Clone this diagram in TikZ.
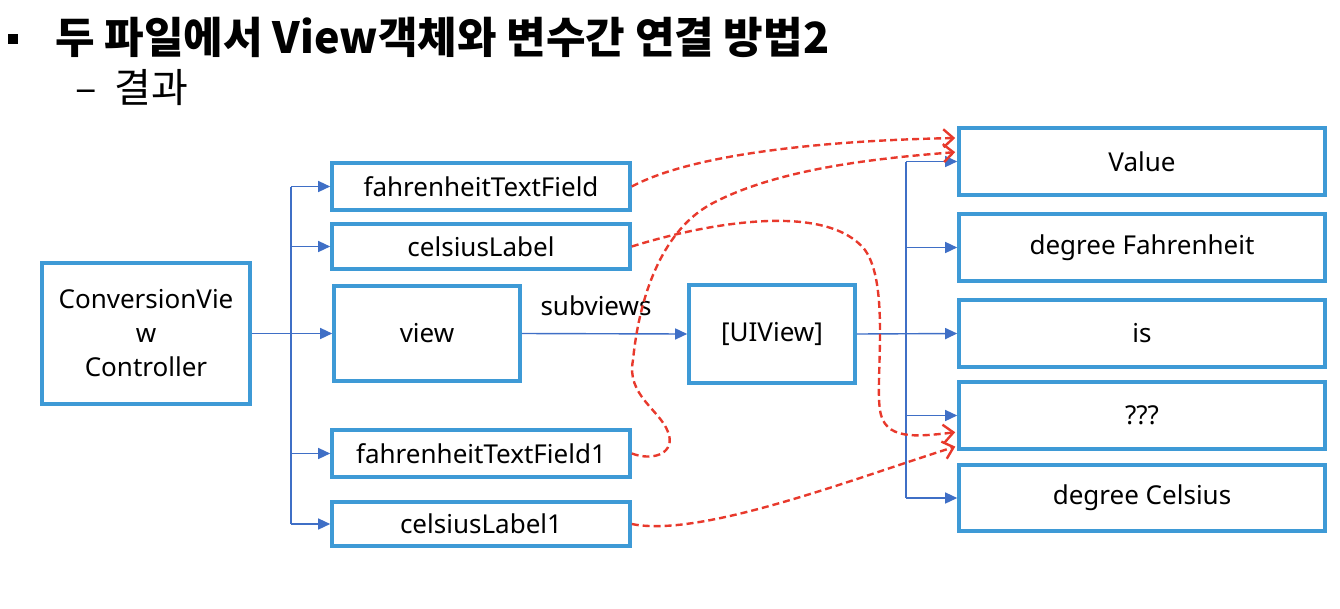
\documentclass[tikz,border=0pt]{standalone}
\usepackage{fontspec}
\setmainfont{Noto Sans}
\newfontfamily\kr{Noto Sans CJK KR}
\usetikzlibrary{arrows.meta,calc}
\definecolor{boxblue}{HTML}{3E9AD6}
\definecolor{lineblue}{HTML}{3F6FC6}
\definecolor{redd}{HTML}{E8392C}
\tikzset{
  box/.style={draw=boxblue, line width=3.6pt, inner sep=0pt, align=center, font=\fontsize{26}{34}\selectfont, text=black},
  conn/.style={draw=lineblue, line width=1.4pt, -{Triangle[length=12pt,width=11pt]}},
  trunk/.style={draw=lineblue, line width=1.4pt},
  redline/.style={draw=redd, line width=2.4pt, dash pattern=on 7pt off 4pt, -{Straight Barb[length=10pt,width=18pt,line width=2.4pt]}, shorten >=2pt},
}
\begin{document}
\begin{tikzpicture}[x=1pt,y=-1pt]
\useasboundingbox (0,0) rectangle (1340,608);
% title
\node[fill=black, minimum size=10pt, inner sep=0pt] (bul) at (13,39) {};
\node[anchor=base west, inner sep=0pt, font=\kr\bfseries\fontsize{43}{45}\selectfont] (title) at (55,53) {두 파일에서 View객체와 변수간 연결 방법2};
\node[anchor=base west, inner sep=0pt, font=\kr\fontsize{40}{42}\selectfont] (sub) at (75,102) {–\hspace{18pt}결과};
% boxes
\node[box, minimum width=208pt, minimum height=141pt] (cvc) at (146,333.5) {ConversionVie\\w\\Controller};
\node[box, minimum width=298pt, minimum height=47pt] (ftf) at (481,186.5) {fahrenheitTextField};
\node[box, minimum width=298pt, minimum height=45pt] (cl) at (481,246.5) {celsiusLabel};
\node[box, minimum width=186pt, minimum height=95pt] (view) at (427,333.5) {view};
\node[box, minimum width=166pt, minimum height=98pt] (uiv) at (772,334) {[UIView]};
\node[box, minimum width=298pt, minimum height=47pt] (ftf1) at (481,453.5) {fahrenheitTextField1};
\node[box, minimum width=298pt, minimum height=44pt] (cl1) at (481,524) {celsiusLabel1};
\node[box, minimum width=366pt, minimum height=67pt] (val) at (1142,161.5) {Value};
\node[box, minimum width=366pt, minimum height=67pt] (df) at (1142,247.5) {degree Fahrenheit};
\node[box, minimum width=366pt, minimum height=67pt] (is) at (1142,333.5) {is};
\node[box, minimum width=366pt, minimum height=67pt] (qq) at (1142,415.5) {???};
\node[box, minimum width=366pt, minimum height=66pt] (dc) at (1142,498) {degree Celsius};
\node[inner sep=0pt, font=\fontsize{26}{28}\selectfont] (subv) at (596,306) {subviews};
% blue connectors
\coordinate (tl) at (291,0);
\coordinate (tr) at (906,0);
\draw[conn] (cvc.east) -- (view.west);
\draw[trunk] (ftf.west -| tl) -- (cl1.west -| tl);
\draw[conn] (ftf.west -| tl) -- (ftf.west);
\draw[conn] (cl.west -| tl) -- (cl.west);
\draw[conn] (ftf1.west -| tl) -- (ftf1.west);
\draw[conn] (cl1.west -| tl) -- (cl1.west);
\draw[conn] (view.east) -- (uiv.west);
\draw[conn] (uiv.east) -- (is.west);
\draw[trunk] (val.west -| tr) -- (dc.west -| tr);
\draw[conn] (val.west -| tr) -- (val.west);
\draw[conn] (df.west -| tr) -- (df.west);
\draw[conn] (qq.west -| tr) -- (qq.west);
\draw[conn] (dc.west -| tr) -- (dc.west);
% red dashed
\coordinate (e1) at ([yshift=23.5pt]val.west);
\coordinate (e2) at ([yshift=9.5pt]val.west);
\coordinate (e3) at ([yshift=-16.5pt]qq.west);
\coordinate (e4) at ([yshift=-30.5pt]qq.west);
\draw[redline] (ftf.east) .. controls (700,150) and (850,140) .. (e1);
\draw[redline] (ftf1.east) .. controls (655,462) and (676,452) .. (668,432) .. controls (660,410) and (626,395) .. (633,360) .. controls (640,290) and (665,228) .. (713,203) .. controls (780,168) and (880,158) .. (e2);
\draw[redline] (cl.east) .. controls (700,225) and (825,200) .. (865,250) .. controls (890,285) and (875,380) .. (880,410) .. controls (884,440) and (915,437) .. (e3);
\draw[redline] (cl1.east) .. controls (700,538) and (850,480) .. (e4);
\end{tikzpicture}
\end{document}
